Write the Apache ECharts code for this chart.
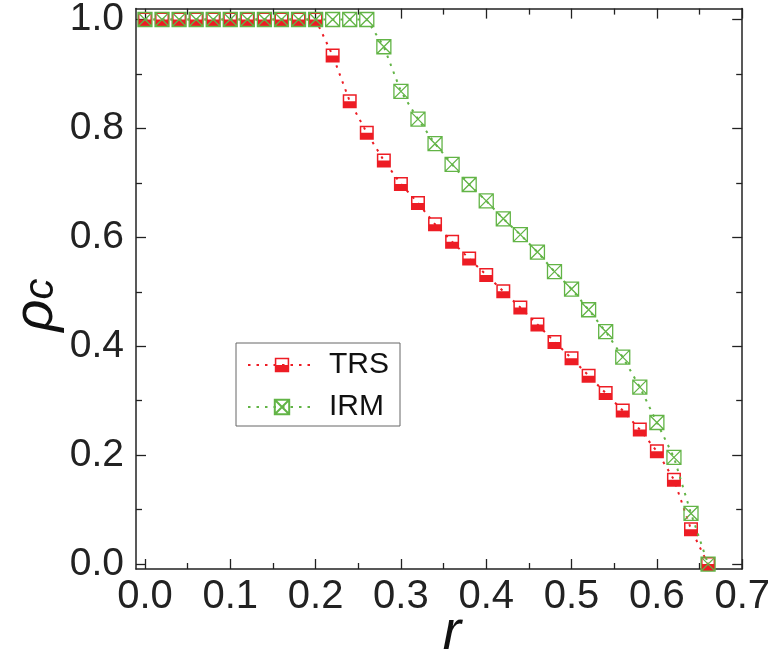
<!DOCTYPE html>
<html>
<head>
<meta charset="utf-8">
<script src="https://cdn.jsdelivr.net/npm/echarts@6/dist/echarts.min.js"></script>
<style>
html,body{margin:0;padding:0;background:#fff;}
#chart{width:773px;height:654px;}
</style>
</head>
<body>
<div id="chart"></div>
<script>
// ---- data ----
const rValues = [0.00,0.02,0.04,0.06,0.08,0.10,0.12,0.14,0.16,0.18,0.20,0.22,0.24,0.26,0.28,0.30,0.32,0.34,0.36,0.38,0.40,0.42,0.44,0.46,0.48,0.50,0.52,0.54,0.56,0.58,0.60,0.62,0.64,0.66];
const trsValues = [1,1,1,1,1,1,1,1,1,1,1,0.934,0.850,0.792,0.741,0.698,0.663,0.624,0.592,0.561,0.531,0.501,0.471,0.440,0.408,0.378,0.346,0.314,0.282,0.247,0.207,0.155,0.064,0.000];
const irmValues = [1,1,1,1,1,1,1,1,1,1,1,1,1,1,0.950,0.868,0.817,0.772,0.734,0.697,0.667,0.634,0.605,0.573,0.537,0.505,0.467,0.427,0.380,0.325,0.260,0.196,0.093,0.000];
const seriesNames = ['TRS','IRM'];
const xMajorTicks = [0,0.1,0.2,0.3,0.4,0.5,0.6,0.7];
const xMinorTicks = [0.05,0.15,0.25,0.35,0.45,0.55,0.65];
const yMajorTicks = [0,0.2,0.4,0.6,0.8,1.0];
const yMinorTicks = [0.1,0.3,0.5,0.7,0.9];

const FONT = 'Liberation Sans';
const RED = '#ED1C24';
const GREEN = '#62B446';
const AX = '#222';

const trsData = rValues.map((r,i)=>[r,trsValues[i]]);
const irmData = rValues.map((r,i)=>[r,irmValues[i]]);

const trsSymbol = 'path://M0,0 L14,0 L14,14 L0,14 Z M1.5,1.5 L1.5,7 L12.5,7 L12.5,1.5 Z';
const irmSymbol = 'path://M0.7,0.7 L13.3,0.7 L13.3,13.3 L0.7,13.3 Z M0.7,0.7 L13.3,13.3 M13.3,0.7 L0.7,13.3';

const XMIN = -0.0105, XMAX = 0.7, YMIN = -0.009, YMAX = 1.02;

function xAx(pos, ticks, len, labels, line){
  return {
    type:'value', position:pos, min:XMIN, max:XMAX,
    axisLine:{show:line, onZero:false, lineStyle:{color:AX,width:1.5}},
    axisTick:{show:true, inside:true, length:len, customValues:ticks, lineStyle:{color:AX,width:1.3}},
    axisLabel:{show:labels, customValues:ticks, formatter:v=>v.toFixed(1), fontSize:40, fontFamily:FONT, color:'#222', margin:8},
    splitLine:{show:false}
  };
}
function yAx(pos, ticks, len, labels, line){
  return {
    type:'value', position:pos, min:YMIN, max:YMAX,
    axisLine:{show:line, onZero:false, lineStyle:{color:AX,width:1.5}},
    axisTick:{show:true, inside:true, length:len, customValues:ticks, lineStyle:{color:AX,width:1.3}},
    axisLabel:{show:labels, customValues:ticks, formatter:v=>v.toFixed(1), fontSize:39, fontFamily:FONT, color:'#222', margin:12},
    splitLine:{show:false}
  };
}

const chart = echarts.init(document.getElementById('chart'));
chart.setOption({
  animation:false,
  backgroundColor:'#fff',
  grid:{left:136, right:26, top:6, bottom:85, containLabel:false},
  xAxis:[
    xAx('bottom', xMajorTicks, 10, true, true),
    xAx('bottom', xMinorTicks, 6, false, false),
    xAx('top', xMajorTicks, 10, false, true),
    xAx('top', xMinorTicks, 6, false, false)
  ],
  yAxis:[
    yAx('left', yMajorTicks, 10, true, true),
    yAx('left', yMinorTicks, 6, false, false),
    yAx('right', yMajorTicks, 10, false, true),
    yAx('right', yMinorTicks, 6, false, false)
  ],
  legend:{
    left:236, top:343, orient:'vertical',
    data:seriesNames,
    borderColor:'#666', borderWidth:1,
    padding:[7,11,4,11], itemGap:12,
    itemWidth:68, itemHeight:18,
    textStyle:{fontSize:30, fontFamily:FONT, color:'#111', padding:[0,0,0,8]}
  },
  graphic:[
    {type:'text', x:452, y:634, style:{text:'r', font:'italic 55px "Liberation Sans"', fill:'#111', align:'center', verticalAlign:'middle'}},
    {type:'text', x:36, y:305, rotation:Math.PI/2, style:{text:'{a|ρ}{b|c}', fill:'#111', align:'center', verticalAlign:'middle',
      rich:{a:{fontSize:56, fontStyle:'italic', fontFamily:FONT, fill:'#111'}, b:{fontSize:42, fontStyle:'italic', fontFamily:FONT, fill:'#111', padding:[10,0,0,0]}}}}
  ],
  series:[
    {name:seriesNames[0], type:'line', data:trsData, xAxisIndex:0, yAxisIndex:0,
     symbol:trsSymbol, symbolSize:14, symbolKeepAspect:true,
     lineStyle:{color:RED, width:2, type:[2.5,6]},
     itemStyle:{color:RED, borderWidth:0}, z:2},
    {name:seriesNames[1], type:'line', data:irmData, xAxisIndex:0, yAxisIndex:0,
     symbol:irmSymbol, symbolSize:14, symbolKeepAspect:true,
     lineStyle:{color:GREEN, width:2, type:[2.5,6]},
     itemStyle:{color:'rgba(0,0,0,0)', borderColor:GREEN, borderWidth:1.3}, z:3}
  ]
});
</script>
</body>
</html>
